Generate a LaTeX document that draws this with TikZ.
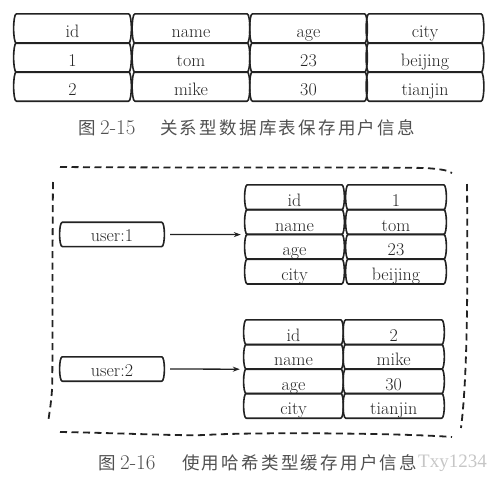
\documentclass[tikz,border=0pt]{standalone}
\usepackage{fontspec}
\newfontfamily\cjk{Noto Sans CJK SC}[LetterSpace=13]
\newfontfamily\wmfont{Liberation Serif}
\usetikzlibrary{arrows.meta}
\definecolor{ink}{HTML}{222222}
\definecolor{txt}{HTML}{262626}
\definecolor{captxt}{HTML}{505050}
\definecolor{wm}{HTML}{C6C6C6}
\newcommand\hb[1]{\draw[cellline] ([xshift=1.5pt]#1.north west) -- ([xshift=-1.5pt]#1.north east)
  .. controls +(1.8pt,0) and +(0,6pt) .. ([xshift=1.2pt]#1.east)
  .. controls +(0,-6pt) and +(1.8pt,0) .. ([xshift=-1.5pt]#1.south east)
  -- ([xshift=1.5pt]#1.south west)
  .. controls +(-1.8pt,0) and +(0,-6pt) .. ([xshift=-1.2pt]#1.west)
  .. controls +(0,6pt) and +(-1.8pt,0) .. ([xshift=1.5pt]#1.north west);}
\begin{document}
\begin{tikzpicture}[x=1pt,y=-1pt,
  cellline/.style={draw=ink,line width=1.6pt,line join=round,line cap=round},
  celltext/.style={inner sep=0pt,text=txt,font=\fontsize{18}{20}\selectfont,text height=18pt,text depth=0pt},
  tcell/.style={celltext,minimum width=115pt,minimum height=29pt},
  hcellA/.style={celltext,minimum width=97pt,minimum height=24.7pt},
  hcellB/.style={celltext,minimum width=98pt,minimum height=24.7pt},
  ucell/.style={inner sep=0pt,text=txt,font=\fontsize{18}{20}\selectfont,text height=15pt,text depth=0pt,minimum width=102pt,minimum height=24pt},
  arr/.style={draw=ink,line width=1.3pt,-{Stealth[length=7pt,width=5pt]}},
  dashline/.style={draw=ink,line width=1.8pt,dash pattern=on 7pt off 4.5pt,line cap=butt},
  captext/.style={inner sep=0pt,anchor=west,text=captxt}
]
\useasboundingbox (0,0) rectangle (499,483);

% ---- relational table ----
\foreach \r/\y/\a/\b/\c/\d in {0/28.5/id/name/age/city, 1/57.5/1/tom/23/beijing, 2/86.5/2/mike/30/tianjin}{
  \node[tcell] (t\r a) at (72.5,\y) {\a};
  \node[tcell] (t\r b) at (191,\y) {\b};
  \node[tcell] (t\r c) at (308.5,\y) {\c};
  \node[tcell] (t\r d) at (425,\y) {\d};
  \hb{t\r a}\hb{t\r b}\hb{t\r c}\hb{t\r d}
}

\node[captext] (c1a) at (78,128) {\cjk\fontsize{17.5}{20}\selectfont 图};
\node[captext] (c1b) at (100,128) {\fontsize{21}{23}\selectfont 2-15};
\node[captext] (c1c) at (160,128) {\cjk\fontsize{17.5}{20}\selectfont 关系型数据库表保存用户信息};

% ---- dashed outline ----
\draw[dashline] (60,167) .. controls (200,168) and (380,167) .. (425,168) .. controls (440,169) and (447,170) .. (452,173);
\draw[dashline] (467,184) .. controls (468,300) and (467,380) .. (461,428);
\draw[dashline] (60,432) .. controls (120,433) and (180,436) .. (205,435) .. controls (250,432) and (400,433) .. (452,437);
\draw[dashline] (53,182) .. controls (52,280) and (53,360) .. (52,390) .. controls (51,405) and (49,415) .. (48,423);

% ---- hash 1 ----
\node[ucell] (u1) at (112,234.4) {user:1};
\hb{u1}
\foreach \r/\y/\k/\v in {0/197.35/id/1, 1/222.05/name/tom, 2/246.75/age/23, 3/271.45/city/beijing}{
  \node[hcellA] (h\r a) at (294.5,\y) {\k};
  \node[hcellB] (h\r b) at (396,\y) {\v};
  \hb{h\r a}\hb{h\r b}
}
\draw[arr] ([xshift=7pt]u1.east) -- ([xshift=-5pt]h1a.south west);

% ---- hash 2 ----
\node[ucell] (u2) at (112,369) {user:2};
\hb{u2}
\foreach \r/\y/\k/\v in {0/332.25/id/2, 1/356.75/name/mike, 2/381.25/age/30, 3/405.75/city/tianjin}{
  \node[hcellA,minimum height=24.5pt] (g\r a) at (293.5,\y) {\k};
  \node[hcellB,minimum height=24.5pt,minimum width=98.5pt] (g\r b) at (393.7,\y) {\v};
  \hb{g\r a}\hb{g\r b}
}
\draw[arr] ([xshift=7pt]u2.east) -- ([xshift=-5pt]g1a.south west);

\node[captext] (c2a) at (98,463) {\cjk\fontsize{17.5}{20}\selectfont 图};
\node[captext] (c2b) at (120,463) {\fontsize{21}{23}\selectfont 2-16};
\node[captext] (c2c) at (182,463) {\cjk\fontsize{17.5}{20}\selectfont 使用哈希类型缓存用户信息};
\node[captext,text=wm] (wm) at (418,463) {\wmfont\fontsize{19}{21}\selectfont Txy1234};
\end{tikzpicture}
\end{document}
